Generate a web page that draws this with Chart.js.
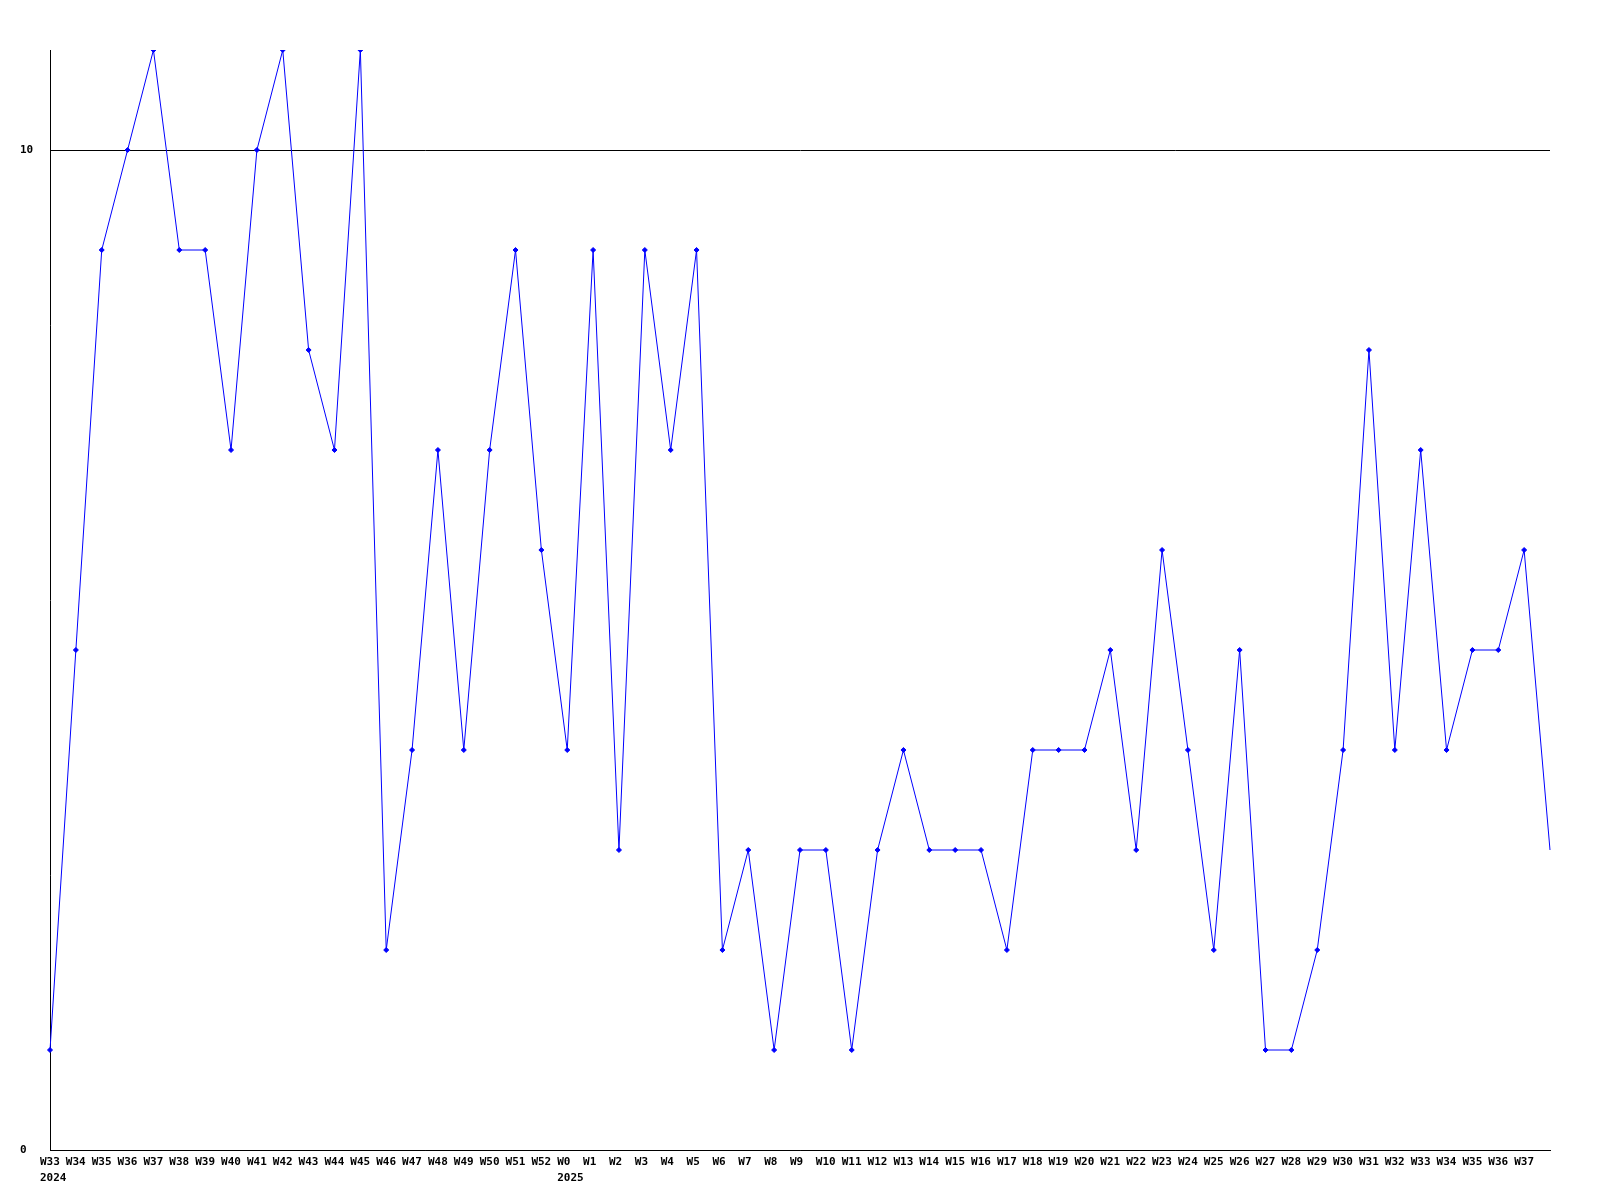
<!DOCTYPE html>
<html>
<head>
<meta charset="utf-8">
<script src="https://cdn.jsdelivr.net/npm/chart.js@4/dist/chart.umd.min.js"></script>
<style>
  body { margin: 0; background: #fff; }
  canvas { display: block; }
</style>
</head>
<body>
<canvas id="weekChart" width="1600" height="1200"></canvas>
<script>
// week labels, 2024 W33 .. 2025 W37 (the last point has no label)
const weeks = ['W33','W34','W35','W36','W37','W38','W39','W40','W41','W42','W43','W44','W45','W46','W47','W48','W49','W50','W51','W52',
  'W0','W1','W2','W3','W4','W5','W6','W7','W8','W9','W10','W11','W12','W13','W14','W15','W16','W17','W18','W19','W20',
  'W21','W22','W23','W24','W25','W26','W27','W28','W29','W30','W31','W32','W33','W34','W35','W36','W37',''];
const yearMarks = { 0: '2024', 20: '2025' };
const counts = [1,5,9,10,11,9,9,7,10,11,8,7,11,2,4,7,4,7,9,6,
  4,9,3,9,7,9,2,3,1,3,3,1,3,4,3,3,3,2,4,4,4,
  5,3,6,4,2,5,1,1,2,4,8,4,7,4,5,5,6,3];
const yTicks = [0, 10];

const labels = weeks.map(function(w, i){
  return yearMarks[i] ? [w, yearMarks[i]] : w;
});

const ctx = document.querySelector('#weekChart').getContext('2d');

new Chart(ctx, {
  type: 'line',
  data: {
    labels: labels,
    datasets: [{
      data: counts,
      borderColor: '#0000ff',
      backgroundColor: '#0000ff',
      borderWidth: 1,
      pointStyle: 'rectRot',
      pointRadius: function(c){ return c.dataIndex === counts.length - 1 ? 0 : 2.5; },
      pointBorderWidth: 1,
      tension: 0,
      fill: false
    }]
  },
  options: {
    responsive: false,
    animation: false,
    devicePixelRatio: 1,
    layout: { padding: { left: 20, top: 50, right: 50, bottom: 0 } },
    plugins: { legend: { display: false }, tooltip: { enabled: false } },
    scales: {
      x: {
        offset: false,
        grid: { display: false, drawTicks: false },
        border: { color: '#000', width: 1 },
        ticks: {
          autoSkip: false,
          maxRotation: 0,
          align: 'start',
          labelOffset: -10,
          padding: 4,
          color: '#000',
          font: { family: 'DejaVu Sans Mono', size: 11, weight: 'bold', lineHeight: 1.45 }
        },
        afterFit: function(axis){ axis.height = 50; }
      },
      y: {
        min: 0,
        max: 11,
        afterBuildTicks: function(axis){ axis.ticks = yTicks.map(function(v){ return { value: v }; }); },
        grid: { color: '#000', drawTicks: false },
        border: { color: '#000', width: 1 },
        ticks: {
          crossAlign: 'far',
          padding: 0,
          color: '#000',
          font: { family: 'DejaVu Sans Mono', size: 11, weight: 'bold' }
        },
        afterFit: function(axis){ axis.width = 30; }
      }
    }
  }
});
</script>
</body>
</html>
